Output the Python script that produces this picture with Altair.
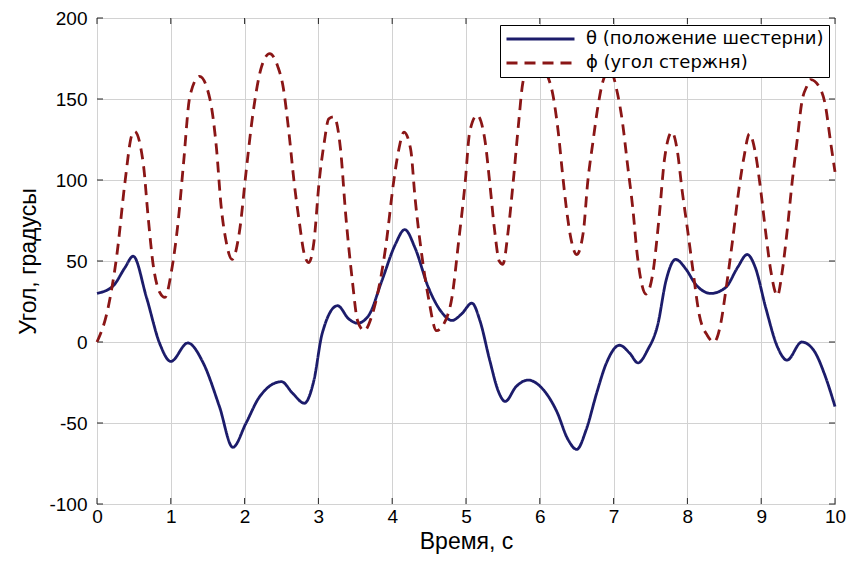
import altair as alt
import pandas as pd

# ---- data ----
theta_t = [0, 0.22, 0.38, 0.49, 0.67, 0.85, 1.0, 1.23, 1.44, 1.66,
           1.84, 2.02, 2.2, 2.5, 2.65, 2.81, 2.94, 3.05, 3.26, 3.41,
           3.53, 3.68, 3.86, 4.04, 4.17, 4.31, 4.49, 4.67, 4.81, 4.94,
           5.08, 5.19, 5.32, 5.44, 5.53, 5.68, 5.84, 6.05, 6.23, 6.38,
           6.5, 6.63, 6.77, 6.9, 7.08, 7.22, 7.33, 7.46, 7.6, 7.71,
           7.84, 7.98, 8.11, 8.32, 8.52, 8.68, 8.81, 8.92, 9.06, 9.22,
           9.35, 9.55, 9.71, 9.87, 10.0]
theta_v = [30, 34.7, 46, 53, 27.6, -1, -12, -0.6, -13, -40,
           -65, -50, -34, -24.5, -31.6, -37.8, -23.5, 5, 22.4, 14.3,
           11.6, 16.3, 37.8, 60, 69.4, 58, 33.7, 18.4, 13.3, 17.3,
           24, 13, -11, -30.6, -36.7, -27.5, -23.5, -29.6, -42.9, -60,
           -66.3, -54, -31.6, -13.3, -2, -7, -12.9, -5, 11, 37.8,
           51, 45, 35.7, 30, 33.7, 46, 54, 46, 21.4, -3,
           -11.2, 0, -5, -21.4, -39.8]

phi_t = [0, 0.15, 0.27, 0.38, 0.47, 0.51, 0.63, 0.69, 0.76, 0.85,
         0.92, 1.01, 1.1, 1.17, 1.26, 1.39, 1.53, 1.62, 1.68, 1.75,
         1.83, 1.93, 2.02, 2.11, 2.23, 2.34, 2.45, 2.52, 2.6, 2.67,
         2.74, 2.81, 2.87, 2.94, 3.01, 3.08, 3.14, 3.21, 3.3, 3.37,
         3.46, 3.53, 3.62, 3.73, 3.82, 3.91, 4.02, 4.09, 4.16, 4.25,
         4.31, 4.4, 4.49, 4.6, 4.72, 4.81, 4.9, 4.99, 5.05, 5.15,
         5.26, 5.32, 5.39, 5.45, 5.5, 5.57, 5.64, 5.71, 5.77, 5.85,
         5.97, 6.1, 6.18, 6.25, 6.31, 6.36, 6.43, 6.5, 6.59, 6.65,
         6.72, 6.79, 6.85, 6.95, 7.05, 7.12, 7.19, 7.26, 7.32, 7.44,
         7.53, 7.62, 7.69, 7.79, 7.86, 7.93, 8.0, 8.07, 8.16, 8.27,
         8.36, 8.45, 8.52, 8.61, 8.7, 8.77, 8.84, 8.92, 8.99, 9.06,
         9.13, 9.22, 9.28, 9.35, 9.42, 9.49, 9.55, 9.62, 9.67, 9.78,
         9.87, 9.94, 10.0]
phi_v = [0, 21, 54, 99, 127.5, 130, 109, 78.6, 48, 30.6,
         27.5, 44, 74.5, 109, 152, 164, 150, 119, 84.7, 62,
         51, 68, 105, 140, 170, 178, 170, 158, 129.6, 99,
         74.5, 54, 49, 62, 99, 123.5, 137.8, 139, 119, 78.6,
         37.8, 13.3, 7, 17, 33.7, 58, 99, 119, 129.6, 119,
         88.8, 54, 27.6, 7, 13, 27.6, 62, 99, 129.6, 140,
         123.5, 99, 68, 50, 48, 68, 99, 133.7, 160, 170,
         174, 165, 152, 129.6, 103, 82.6, 62, 54, 68, 99,
         123.5, 146, 160, 168, 154, 135.7, 109, 82.6, 54, 29.6,
         42, 78.6, 113, 129.6, 119, 93, 70, 46, 17, 4,
         0, 11, 31.6, 62, 95, 115, 128.6, 117, 95, 68,
         44, 28.6, 42, 68, 99, 125.5, 148, 158, 162, 158,
         146, 123.5, 105]

x_ticks = [0, 1, 2, 3, 4, 5, 6, 7, 8, 9, 10]
y_ticks = [-100, -50, 0, 50, 100, 150, 200]
series_names = ["θ (положение шестерни)", "ϕ (угол стержня)"]
series_colors = ["#1c1c6b", "#8a1616"]
series_dashes = [[1, 0], [11, 7]]

# ---- build tables ----
df = pd.concat([
    pd.DataFrame({"t": theta_t, "v": theta_v, "s": series_names[0]}),
    pd.DataFrame({"t": phi_t, "v": phi_v, "s": series_names[1]}),
], ignore_index=True)
xt_df = pd.DataFrame({"t": x_ticks})
yt_df = pd.DataFrame({"v": y_ticks})

W, H = 738, 486
TL = 6
FONT = "Liberation Sans"

xs = alt.Scale(domain=[0, 10], nice=False, zero=False)
ys = alt.Scale(domain=[-100, 200], nice=False, zero=False)
x_axis = alt.Axis(values=x_ticks, title="Время, с", labelExpr="'' + datum.value",
                  labelFlush=False, labelPadding=3, titlePadding=4)
y_axis = alt.Axis(values=y_ticks, title="Угол, градусы", labelExpr="'' + datum.value",
                  labelFlush=False, labelPadding=10, titlePadding=8)

legend = alt.Legend(
    title=None, orient="none", legendX=403, legendY=7,
    symbolType="stroke", symbolSize=68 * 68, symbolStrokeWidth=2.8,
    clipHeight=18, rowPadding=6, padding=5,
    fillColor="white", strokeColor="black", cornerRadius=0,
    labelFont="DejaVu Sans", labelFontSize=18, labelColor="black",
    labelOffset=10, labelLimit=500,
)

tick_color = "#262626"
bottom_ticks = alt.Chart(xt_df).mark_rule(color=tick_color, strokeWidth=1).encode(
    x=alt.X("t:Q", scale=xs, axis=x_axis), y=alt.value(H), y2=alt.value(H - TL))
top_ticks = alt.Chart(xt_df).mark_rule(color=tick_color, strokeWidth=1).encode(
    x=alt.X("t:Q", scale=xs, axis=x_axis), y=alt.value(0), y2=alt.value(TL))
left_ticks = alt.Chart(yt_df).mark_rule(color=tick_color, strokeWidth=1).encode(
    y=alt.Y("v:Q", scale=ys, axis=y_axis), x=alt.value(0), x2=alt.value(TL))
right_ticks = alt.Chart(yt_df).mark_rule(color=tick_color, strokeWidth=1).encode(
    y=alt.Y("v:Q", scale=ys, axis=y_axis), x=alt.value(W - TL), x2=alt.value(W))

lines = alt.Chart(df).mark_line(strokeWidth=2.8, interpolate="monotone").encode(
    x=alt.X("t:Q", scale=xs, axis=x_axis),
    y=alt.Y("v:Q", scale=ys, axis=y_axis),
    color=alt.Color("s:N", scale=alt.Scale(domain=series_names, range=series_colors),
                    legend=legend),
    strokeDash=alt.StrokeDash("s:N", scale=alt.Scale(domain=series_names, range=series_dashes),
                              legend=legend),
)

chart = alt.layer(bottom_ticks, top_ticks, left_ticks, right_ticks, lines).properties(
    width=W, height=H,
    autosize=alt.AutoSizeParams(type="none"),
    padding={"left": 89, "top": 10, "right": 11, "bottom": 55},
).configure(
    background="white",
).configure_view(
    stroke="black", strokeWidth=1,
).configure_axis(
    grid=True, gridColor="#d2d2d2", gridWidth=1,
    domain=False, ticks=False,
    labelFont=FONT, labelFontSize=19, labelColor="black",
    titleFont=FONT, titleFontSize=23, titleFontWeight="normal", titleColor="black",
)

chart.save("out.html", embed_options={"renderer": "svg", "actions": False})
